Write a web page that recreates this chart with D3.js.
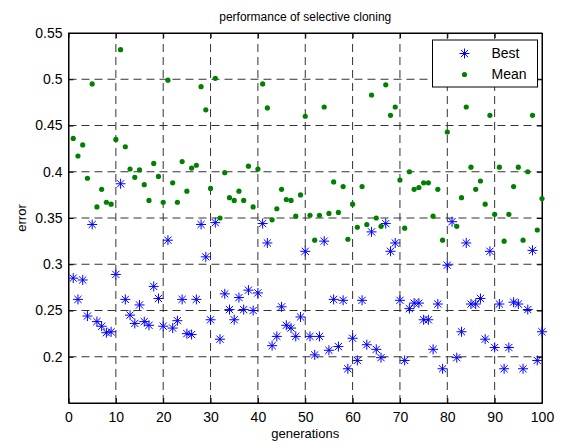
<!DOCTYPE html>
<html>
<head>
<meta charset="utf-8">
<script src="https://cdn.jsdelivr.net/npm/d3@7"></script>
<style>
  html, body { margin: 0; padding: 0; background: #fff; }
  svg { display: block; font-family: Arial, "Liberation Sans", Helvetica, sans-serif; }
</style>
</head>
<body>
<div id="chart"></div>
<script>
// generations 1..100
const generations = d3.range(1, 101);

const bestValues = [
  0.285, 0.262, 0.283, 0.244, 0.343, 0.238, 0.233, 0.226, 0.227, 0.289,
  0.387, 0.262, 0.245, 0.236, 0.256, 0.238, 0.234, 0.276, 0.263, 0.233,
  0.326, 0.231, 0.239, 0.262, 0.225, 0.224, 0.262, 0.343, 0.308, 0.240,
  0.345, 0.219, 0.268, 0.251, 0.240, 0.264, 0.251, 0.272, 0.250, 0.269,
  0.344, 0.323, 0.212, 0.222, 0.254, 0.234, 0.231, 0.222, 0.243, 0.314,
  0.222, 0.202, 0.222, 0.325, 0.207, 0.262, 0.211, 0.261, 0.187, 0.220,
  0.196, 0.261, 0.213, 0.335, 0.208, 0.199, 0.344, 0.314, 0.323, 0.261,
  0.196, 0.252, 0.258, 0.258, 0.240, 0.240, 0.208, 0.257, 0.187, 0.299,
  0.346, 0.199, 0.227, 0.323, 0.257, 0.257, 0.263, 0.219, 0.314, 0.210,
  0.257, 0.187, 0.210, 0.259, 0.257, 0.187, 0.251, 0.315, 0.196, 0.227
];

// gen 81 mean is hidden in the picture
const meanValues = [
  0.436, 0.417, 0.429, 0.393, 0.495, 0.362, 0.381, 0.367, 0.365, 0.435,
  0.532, 0.427, 0.403, 0.394, 0.402, 0.386, 0.369, 0.409, 0.395, 0.367,
  0.499, 0.388, 0.367, 0.411, 0.379, 0.404, 0.407, 0.492, 0.467, 0.382,
  0.501, 0.350, 0.399, 0.372, 0.369, 0.379, 0.369, 0.406, 0.362, 0.403,
  0.495, 0.469, 0.348, 0.360, 0.381, 0.370, 0.369, 0.352, 0.375, 0.460,
  0.353, 0.326, 0.353, 0.470, 0.355, 0.389, 0.356, 0.384, 0.327, 0.365,
  0.340, 0.384, 0.343, 0.483, 0.350, 0.341, 0.494, 0.461, 0.470, 0.391,
  0.339, 0.400, 0.381, 0.383, 0.388, 0.388, 0.352, 0.381, 0.326, 0.443,
  null,  0.341, 0.372, 0.470, 0.405, 0.381, 0.390, 0.365, 0.461, 0.354,
  0.405, 0.325, 0.354, 0.384, 0.405, 0.326, 0.400, 0.461, 0.337, 0.371
];

const xTicks = [0, 10, 20, 30, 40, 50, 60, 70, 80, 90, 100];
const yTicks = [0.2, 0.25, 0.3, 0.35, 0.4, 0.45, 0.5, 0.55];
const seriesNames = ['Best', 'Mean'];

const width = 565;
const height = 443;
const margin = { top: 33, right: 23, bottom: 40, left: 68.5 };

const BEST_COLOR = '#0000ff';
const MEAN_COLOR = '#008000';
const STAR_R = 5;

const svg = d3.select('#chart')
  .append('svg')
  .attr('width', width)
  .attr('height', height);

const x = d3.scaleLinear()
  .domain([0, 100])
  .range([margin.left, width - margin.right]);

const y = d3.scaleLinear()
  .domain([0.15, 0.55])
  .range([height - margin.bottom, margin.top]);

const x0 = x.range()[0], x1 = x.range()[1];
const y0 = y.range()[0], y1 = y.range()[1];

// Grid
const grid = svg.append('g')
  .attr('stroke', '#333')
  .attr('stroke-width', 1)
  .attr('stroke-dasharray', '8,5');

grid.selectAll('.vgrid')
  .data(xTicks.slice(1, -1))
  .enter()
  .append('line')
  .attr('x1', (d) => x(d))
  .attr('x2', (d) => x(d))
  .attr('y1', y0)
  .attr('y2', y1);

grid.selectAll('.hgrid')
  .data(yTicks.slice(0, -1))
  .enter()
  .append('line')
  .attr('x1', x0)
  .attr('x2', x1)
  .attr('y1', (d) => y(d))
  .attr('y2', (d) => y(d));

// Axes, ticks pointing inwards like matlab
const fmtY = (d) => d3.format('')(+d.toFixed(2));

svg.append('g')
  .attr('transform', `translate(0,${y0})`)
  .call(d3.axisBottom(x).tickValues(xTicks).tickSize(-5).tickPadding(9).tickSizeOuter(0));

svg.append('g')
  .attr('transform', `translate(0,${y1})`)
  .call(d3.axisTop(x).tickValues(xTicks).tickSize(-5).tickFormat('').tickSizeOuter(0));

svg.append('g')
  .attr('transform', `translate(${x0},0)`)
  .call(d3.axisLeft(y).tickValues(yTicks).tickSize(-5).tickPadding(6).tickFormat(fmtY).tickSizeOuter(0));

svg.append('g')
  .attr('transform', `translate(${x1},0)`)
  .call(d3.axisRight(y).tickValues(yTicks).tickSize(-5).tickFormat('').tickSizeOuter(0));

svg.selectAll('.domain').attr('stroke', '#000');
svg.selectAll('.tick line').attr('stroke', '#000');
svg.selectAll('.tick text')
  .attr('fill', '#000')
  .style('font-size', '14px')
  .style('font-family', 'Arial, "Liberation Sans", sans-serif');

// Box
svg.append('rect')
  .attr('x', x0)
  .attr('y', y1)
  .attr('width', x1 - x0)
  .attr('height', y0 - y1)
  .attr('fill', 'none')
  .attr('stroke', '#000')
  .attr('stroke-width', 1);

// Star marker path ('*')
function starPath(r) {
  const d = r * 0.72;
  return `M${-r},0L${r},0M0,${-r}L0,${r}M${-d},${-d}L${d},${d}M${-d},${d}L${d},${-d}`;
}

const bestData = generations.map((g, i) => ({ g, v: bestValues[i] }));
const meanData = generations
  .map((g, i) => ({ g, v: meanValues[i] }))
  .filter((d) => d.v != null);

svg.append('g')
  .selectAll('path')
  .data(bestData)
  .enter()
  .append('path')
  .attr('d', starPath(STAR_R))
  .attr('transform', (d) => `translate(${x(d.g)},${y(d.v)})`)
  .attr('fill', 'none')
  .attr('stroke', BEST_COLOR)
  .attr('stroke-width', 1);

svg.append('g')
  .selectAll('circle')
  .data(meanData)
  .enter()
  .append('circle')
  .attr('cx', (d) => x(d.g))
  .attr('cy', (d) => y(d.v))
  .attr('r', 2.6)
  .attr('fill', MEAN_COLOR);

// Legend
const legend = svg.append('g').attr('transform', 'translate(432.5,40)');

legend.append('rect')
  .attr('width', 105)
  .attr('height', 47)
  .attr('fill', '#fff')
  .attr('stroke', '#000')
  .attr('stroke-width', 1);

legend.append('path')
  .attr('d', starPath(STAR_R))
  .attr('transform', 'translate(32,13.5)')
  .attr('fill', 'none')
  .attr('stroke', BEST_COLOR);

legend.append('circle')
  .attr('cx', 32)
  .attr('cy', 34.5)
  .attr('r', 2.6)
  .attr('fill', MEAN_COLOR);

legend.selectAll('.legend-label')
  .data(seriesNames)
  .enter()
  .append('text')
  .attr('x', 59)
  .attr('y', (d, i) => 18 + i * 21)
  .style('font-size', '14px')
  .text((d) => d);

// Titles
svg.append('text')
  .attr('x', (x0 + x1) / 2)
  .attr('y', 21)
  .attr('text-anchor', 'middle')
  .style('font-size', '12px')
  .text('performance of selective cloning');

svg.append('text')
  .attr('x', (x0 + x1) / 2)
  .attr('y', 438)
  .attr('text-anchor', 'middle')
  .style('font-size', '13px')
  .text('generations');

svg.append('text')
  .attr('transform', `translate(26,${(y0 + y1) / 2}) rotate(-90)`)
  .attr('text-anchor', 'middle')
  .style('font-size', '13px')
  .text('error');
</script>
</body>
</html>
